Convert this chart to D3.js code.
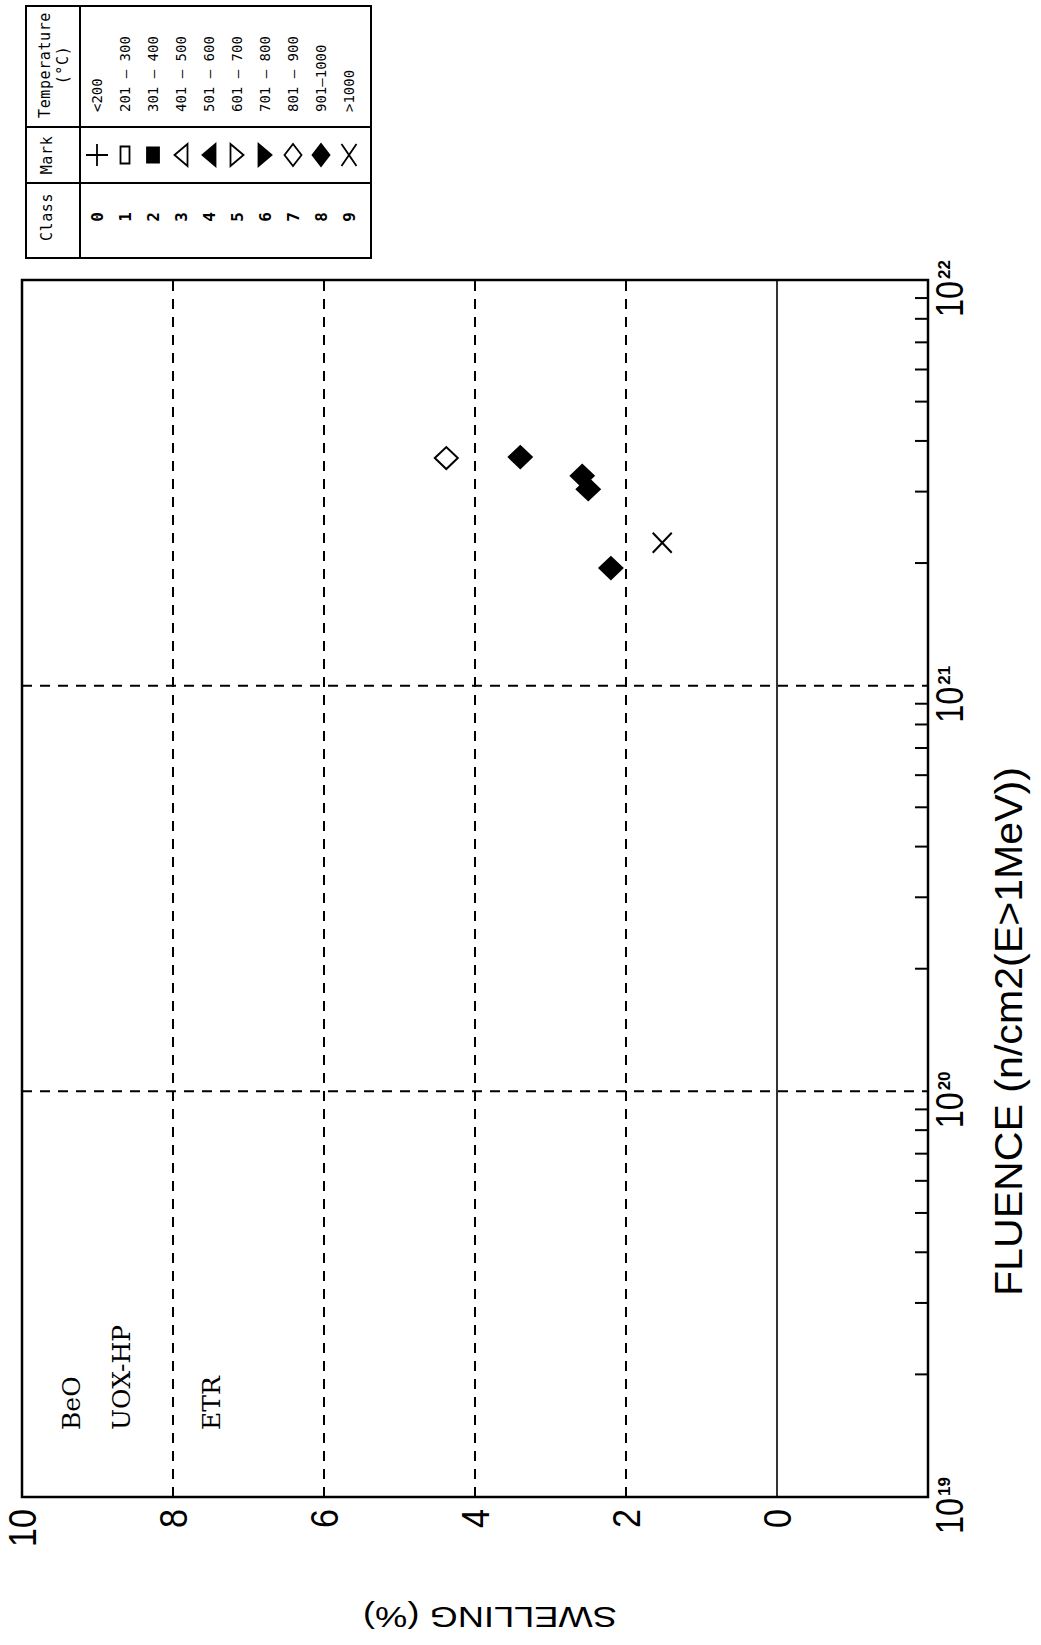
<!DOCTYPE html>
<html>
<head>
<meta charset="utf-8">
<script src="https://cdn.jsdelivr.net/npm/d3@7"></script>
<style>
  body { margin: 0; background: #fff; }
  svg { display: block; }
</style>
</head>
<body>
<svg></svg>
<script>
const width = 1041;
const height = 1645;
// the chart is printed turned a quarter turn: fluence runs up, swelling runs left
const originX = 22;
const originY = 1497;
const plotW = 1217;
const plotH = 906;

// measured points
const pointClass = [7, 8, 8, 8, 8, 9];
const pointFluence = [3.64e21, 3.66e21, 3.29e21, 3.05e21, 1.95e21, 2.25e21];
const pointSwelling = [4.38, 3.40, 2.58, 2.50, 2.20, 1.52];

// axes
const fluenceTicks = [1e19, 1e20, 1e21, 1e22];
const fluenceExp = ["19", "20", "21", "22"];
const fluenceGrid = [1e20, 1e21];
const swellingTicks = [10, 8, 6, 4, 2, 0];
const swellingGrid = [8, 6, 4, 2];

// legend table
const classIds = [0, 1, 2, 3, 4, 5, 6, 7, 8, 9];
const classMarks = ["plus", "rect", "rectFill", "triUp", "triUpFill",
                    "triDown", "triDownFill", "diamond", "diamondFill", "times"];
const classTemps = ["<200", "201 — 300", "301 — 400", "401 — 500", "501 — 600",
                    "601 — 700", "701 — 800", "801 — 900", "901—1000", ">1000"];

const notes = ["BeO", "UOX-HP", "ETR"];

let svg = d3.select("svg")
    .attr("width", width)
    .attr("height", height);

svg.append("rect").attr("width", width).attr("height", height).attr("fill", "#fff");

function markPath(type, rx, ry) {
    const p = d3.path();
    if (type === "plus") {
        p.moveTo(-rx, 0); p.lineTo(rx, 0);
        p.moveTo(0, -ry); p.lineTo(0, ry);
    } else if (type === "times") {
        p.moveTo(-rx, -ry); p.lineTo(rx, ry);
        p.moveTo(-rx, ry); p.lineTo(rx, -ry);
    } else if (type.startsWith("rect")) {
        p.rect(-rx, -ry, 2 * rx, 2 * ry);
    } else if (type.startsWith("triUp")) {
        p.moveTo(0, -ry); p.lineTo(rx, ry); p.lineTo(-rx, ry); p.closePath();
    } else if (type.startsWith("triDown")) {
        p.moveTo(0, ry); p.lineTo(rx, -ry); p.lineTo(-rx, -ry); p.closePath();
    } else {
        p.moveTo(0, -ry); p.lineTo(rx, 0); p.lineTo(0, ry); p.lineTo(-rx, 0); p.closePath();
    }
    return p.toString();
}

function markFill(type) {
    if (type === "plus" || type === "times") return "none";
    return type.endsWith("Fill") ? "#000" : "#fff";
}

// legend sizes of each mark (half width along the row, half height)
const legendSize = {
    plus: [11, 11], rect: [8.5, 4.5], rectFill: [7.5, 6],
    triUp: [11, 6.5], triUpFill: [11, 6.5], triDown: [11, 6.5], triDownFill: [11, 6.5],
    diamond: [11, 8.5], diamondFill: [11, 8.5], times: [11, 7.5]
};
const dataSize = { diamond: [11, 11.5], diamondFill: [11, 11.5], times: [10, 9.5] };

// ---------- main plot, drawn upright then turned ----------
let g = svg.append("g")
    .attr("transform", `translate(${originX}, ${originY}) rotate(-90)`);

let scX = d3.scaleLog().domain([1e19, 1e22]).range([0, plotW]);
let scY = d3.scaleLinear().domain([10, -2]).range([0, plotH]);

// grid
g.selectAll(".gridY")
    .data(swellingGrid)
    .enter()
    .append("line")
    .attr("x1", 0).attr("x2", plotW)
    .attr("y1", d => scY(d)).attr("y2", d => scY(d))
    .attr("stroke", "#000").attr("stroke-width", 2)
    .attr("stroke-dasharray", "10,8");

g.append("line")
    .attr("x1", 0).attr("x2", plotW)
    .attr("y1", scY(0)).attr("y2", scY(0))
    .attr("stroke", "#000").attr("stroke-width", 1.6);

g.selectAll(".gridX")
    .data(fluenceGrid)
    .enter()
    .append("line")
    .attr("x1", d => scX(d)).attr("x2", d => scX(d))
    .attr("y1", 0).attr("y2", plotH)
    .attr("stroke", "#000").attr("stroke-width", 2)
    .attr("stroke-dasharray", "10,8");

// log ticks on the fluence axis, pointing inside
let minor = [];
for (let e = 19; e < 22; e++) {
    for (let k = 2; k <= 9; k++) minor.push(k * Math.pow(10, e));
}
g.append("g")
    .attr("transform", `translate(0, ${plotH})`)
    .call(d3.axisBottom(scX).tickValues(minor).tickSize(-13).tickFormat(""))
    .call(s => s.select(".domain").remove())
    .selectAll("line").attr("stroke-width", 2);

// frame
g.append("rect")
    .attr("x", 0).attr("y", 0)
    .attr("width", plotW).attr("height", plotH)
    .attr("fill", "none").attr("stroke", "#000").attr("stroke-width", 2.5);

// fluence labels 10^n
let fl = g.selectAll(".flab")
    .data(fluenceTicks)
    .enter()
    .append("g");
fl.append("text")
    .attr("x", d => scX(d) - 1)
    .attr("y", plotH + 35)
    .attr("text-anchor", "end")
    .attr("textLength", 36)
    .attr("lengthAdjust", "spacingAndGlyphs")
    .style("font-family", "Liberation Sans, Arial, sans-serif")
    .style("font-size", "38px")
    .text("10");
fl.append("text")
    .attr("x", d => scX(d) + 1)
    .attr("y", plotH + 22)
    .attr("text-anchor", "start")
    .style("font-family", "Liberation Sans, Arial, sans-serif")
    .style("font-size", "17px")
    .style("font-weight", "bold")
    .text((d, i) => fluenceExp[i]);

// swelling labels
g.selectAll(".slab")
    .data(swellingTicks)
    .enter()
    .append("text")
    .attr("x", -12)
    .attr("y", d => scY(d))
    .attr("dy", "0.36em")
    .attr("text-anchor", "end")
    .attr("textLength", d => String(d).length * 19)
    .attr("lengthAdjust", "spacingAndGlyphs")
    .style("font-family", "Liberation Sans, Arial, sans-serif")
    .style("font-size", "38px")
    .text(d => d);

// axis titles
g.append("text")
    .attr("x", 201)
    .attr("y", plotH + 94)
    .attr("textLength", 529)
    .attr("lengthAdjust", "spacingAndGlyphs")
    .style("font-family", "Liberation Sans, Arial, sans-serif")
    .style("font-size", "38px")
    .text("FLUENCE  (n/cm2(E>1MeV))");

g.append("text")
    .attr("transform", `translate(-110, ${scY(10) + 468}) rotate(-90)`)
    .attr("text-anchor", "middle")
    .attr("textLength", 254)
    .attr("lengthAdjust", "spacingAndGlyphs")
    .style("font-family", "Liberation Sans, Arial, sans-serif")
    .style("font-size", "29px")
    .text("SWELLING  (%)");

// notes inside the plot
const noteY = [58, 108, 198];
g.selectAll(".note")
    .data(notes)
    .enter()
    .append("text")
    .attr("x", 67)
    .attr("y", (d, i) => noteY[i])
    .style("font-family", "DejaVu Serif, Liberation Serif, serif")
    .style("font-size", "25px")
    .text(d => d);

// data points
let pts = pointClass.map((c, i) => ({ type: classMarks[c], f: pointFluence[i], s: pointSwelling[i] }));
g.selectAll(".pt")
    .data(pts)
    .enter()
    .append("path")
    .attr("transform", d => `translate(${scX(d.f)}, ${scY(d.s)})`)
    .attr("d", d => markPath(d.type, dataSize[d.type][0], dataSize[d.type][1]))
    .attr("fill", d => markFill(d.type))
    .attr("stroke", "#000")
    .attr("stroke-width", 2);

// ---------- legend table, turned the same way ----------
const legW = 252;
const legH = 345;
let lg = svg.append("g")
    .attr("transform", `translate(26, 258) rotate(-90)`);

let rowSc = d3.scaleBand().domain(classIds).range([57, 337]);
const colClass = 41, colMark = 103, colTemp = 146;

lg.append("rect")
    .attr("width", legW).attr("height", legH)
    .attr("fill", "none").attr("stroke", "#000").attr("stroke-width", 2);
lg.append("line")
    .attr("x1", 0).attr("x2", legW).attr("y1", 54).attr("y2", 54)
    .attr("stroke", "#000").attr("stroke-width", 2);
[75, 131].forEach(u => {
    lg.append("line")
        .attr("x1", u).attr("x2", u).attr("y1", 0).attr("y2", legH)
        .attr("stroke", "#000").attr("stroke-width", 2);
});

const legFont = "DejaVu Sans Mono, Liberation Mono, monospace";
let head = [["Class", colClass, 21], ["Mark", colMark, 21], ["Temperature", 193, 19], ["(°C)", 193, 37]];
lg.selectAll(".head")
    .data(head)
    .enter()
    .append("text")
    .attr("x", d => d[1])
    .attr("y", d => d[2])
    .attr("dy", "0.35em")
    .attr("text-anchor", "middle")
    .style("font-family", legFont)
    .style("font-size", "15px")
    .style("letter-spacing", "0.6px")
    .text(d => d[0]);

lg.selectAll(".cls")
    .data(classIds)
    .enter()
    .append("text")
    .attr("x", colClass)
    .attr("y", d => rowSc(d) + rowSc.bandwidth() / 2)
    .attr("dy", "0.35em")
    .attr("text-anchor", "middle")
    .style("font-family", legFont)
    .style("font-size", "16px")
    .style("font-weight", "bold")
    .text(d => d);

lg.selectAll(".mk")
    .data(classIds)
    .enter()
    .append("path")
    .attr("transform", d => `translate(${colMark}, ${rowSc(d) + rowSc.bandwidth() / 2})`)
    .attr("d", d => markPath(classMarks[d], legendSize[classMarks[d]][0], legendSize[classMarks[d]][1]))
    .attr("fill", d => markFill(classMarks[d]))
    .attr("stroke", "#000")
    .attr("stroke-width", 1.8);

lg.selectAll(".tmp")
    .data(classIds)
    .enter()
    .append("text")
    .attr("x", colTemp)
    .attr("y", d => rowSc(d) + rowSc.bandwidth() / 2)
    .attr("dy", "0.35em")
    .style("font-family", legFont)
    .style("font-size", "14px")
    .text(d => classTemps[d]);
</script>
</body>
</html>
